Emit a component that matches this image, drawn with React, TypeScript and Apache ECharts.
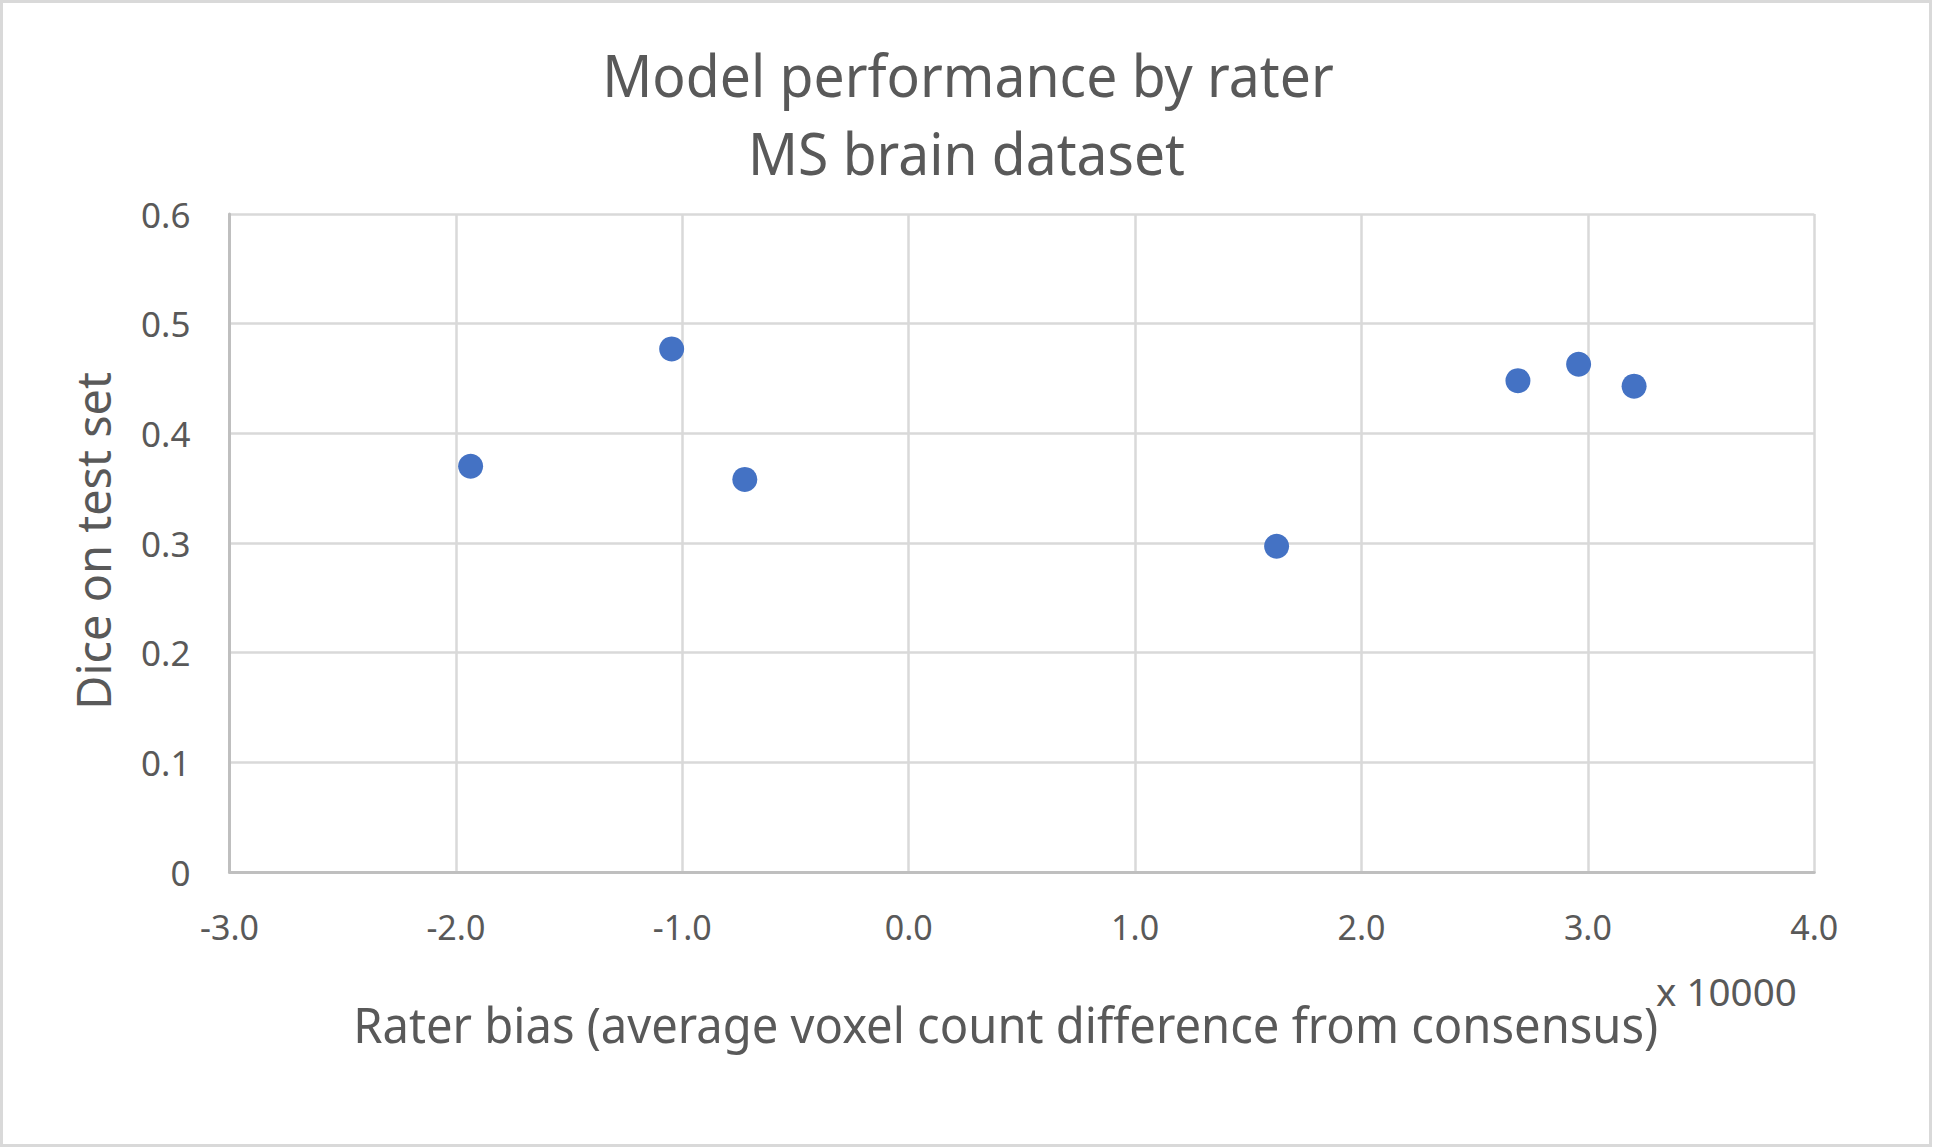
import React, { useEffect, useRef } from "react";
import * as echarts from "echarts";

const titleLines = ["Model performance by rater", "MS brain dataset"];
const xAxisName = "Rater bias (average voxel count difference from consensus)";
const xUnitLabel = "x 10000";
const yAxisName = "Dice on test set";

// Rater bias (in units of 10000 voxels) and Dice score per rater
const raterBias = [-1.935, -1.047, -0.724, 1.625, 2.691, 2.959, 3.204];
const diceScore = [0.37, 0.477, 0.358, 0.297, 0.448, 0.463, 0.443];

const xTicks = { min: -3, max: 4, interval: 1 };
const yTicks = { min: 0, max: 0.6, interval: 0.1 };

const FONT = "Noto Sans";
const TEXT_COLOR = "#595959";

function measure(text: string, size: number): number {
  const c = document.createElement("canvas").getContext("2d");
  if (!c) return text.length * size * 0.55;
  c.font = `${size}px "${FONT}"`;
  return c.measureText(text).width;
}

function fitText(
  text: string,
  size: number,
  targetWidth: number,
  x: number,
  y: number,
  rotation = 0
) {
  const w = measure(text, size);
  const sx = w > 0 ? targetWidth / w : 1;
  return {
    type: "text",
    x,
    y,
    rotation,
    scaleX: sx,
    scaleY: 1,
    silent: true,
    style: {
      text,
      fill: TEXT_COLOR,
      font: `${size}px "${FONT}"`,
      fontFamily: FONT,
      fontSize: size,
      align: "center",
      verticalAlign: "middle",
    },
  };
}

export default function App() {
  const ref = useRef<HTMLDivElement>(null);

  useEffect(() => {
    document.body.style.margin = "0";
    if (!ref.current) return;
    const chart = echarts.init(ref.current, undefined, { renderer: "svg" });

    const points = raterBias.map((x, i) => [x, diceScore[i]]);

    chart.setOption({
      animation: false,
      backgroundColor: "#ffffff",
      textStyle: { fontFamily: FONT },
      grid: { left: 229.5, top: 214, right: 118.7, bottom: 276, containLabel: false },
      xAxis: {
        type: "value",
        min: xTicks.min,
        max: xTicks.max,
        interval: xTicks.interval,
        axisLine: { show: true, onZero: false, lineStyle: { color: "#bfbfbf", width: 3 } },
        axisTick: { show: false },
        splitLine: { show: true, lineStyle: { color: "#d9d9d9", width: 2.5 } },
        axisLabel: {
          color: TEXT_COLOR,
          fontFamily: FONT,
          fontSize: 34,
          margin: 38,
          formatter: (v: number) => v.toFixed(1),
        },
      },
      yAxis: {
        type: "value",
        min: yTicks.min,
        max: yTicks.max,
        interval: yTicks.interval,
        axisLine: { show: true, onZero: false, lineStyle: { color: "#bfbfbf", width: 3 } },
        axisTick: { show: false },
        splitLine: { show: true, lineStyle: { color: "#d9d9d9", width: 2.5 } },
        axisLabel: {
          color: TEXT_COLOR,
          fontFamily: FONT,
          fontSize: 35,
          margin: 39,
          formatter: (v: number) => (v === 0 ? "0" : v.toFixed(1)),
        },
      },
      series: [
        {
          type: "scatter",
          data: points,
          symbol: "circle",
          symbolSize: 25,
          itemStyle: { color: "#4472C4", opacity: 1 },
          z: 5,
        },
      ],
      graphic: [
        {
          type: "rect",
          shape: { x: 1.5, y: 1.5, width: 1929, height: 1144 },
          style: { fill: "none", stroke: "#d9d9d9", lineWidth: 3 },
          silent: true,
          z: -1,
        },
        fitText(titleLines[0], 58, 732, 968, 74.8),
        fitText(titleLines[1], 58, 437, 966.5, 152.5),
        fitText(xAxisName, 50, 1305, 1005.7, 1023.3),
        fitText(xUnitLabel, 39, 140.7, 1726.4, 990.9),
        fitText(yAxisName, 48, 338, 92.4, 540.9, Math.PI / 2),
      ],
    });

    return () => chart.dispose();
  }, []);

  return <div ref={ref} style={{ width: 1933, height: 1148 }} />;
}
